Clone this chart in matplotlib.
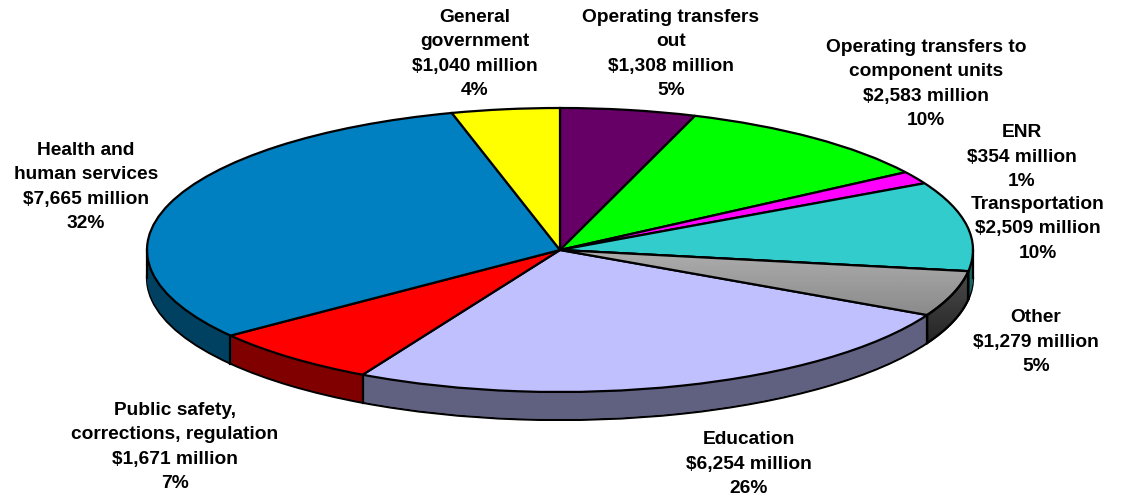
import numpy as np
import matplotlib
matplotlib.use("Agg")
import matplotlib.pyplot as plt
from matplotlib.patches import Polygon, Wedge

plt.rcParams["font.family"] = ["Liberation Sans", "DejaVu Sans"]

# clockwise from 12 o'clock
categories = [
    "Operating transfers\nout",
    "Operating transfers to\ncomponent units",
    "ENR",
    "Transportation",
    "Other",
    "Education",
    "Public safety,\ncorrections, regulation",
    "Health and\nhuman services",
    "General\ngovernment",
]
values = [1308, 2583, 354, 2509, 1279, 6254, 1671, 7665, 1040]
percents = [5, 10, 1, 10, 5, 26, 7, 32, 4]
colors = ["#660066", "#00ff00", "#ff00ff", "#33cccc", "#999999",
          "#c0c0ff", "#ff0000", "#0080c0", "#ffff00"]
wall_colors = ["#330033", "#008000", "#800080", "#1a6666", "#3a3a3a",
               "#606080", "#800000", "#004060", "#808000"]
label_pos = [(671, 54), (926, 84), (1022, 157), (1038, 229), (1036, 342),
             (749, 464), (175, 447), (86, 187), (475, 54)]

W, H = 1122, 501
CX, CY = 560, 250      # pie centre, px
RX, RY = 413, 142      # pie radii, px
DEPTH = 28 / RY        # wall height in y units
GRAY = 4               # index of the shaded slice
LW = 1.6

fig = plt.figure(figsize=(W / 100, H / 100), dpi=100)
ax = fig.add_axes([0, 0, 1, 1])

# side wall: same pie repeated downward
for shift in np.linspace(DEPTH, 0, 29):
    edge = {"edgecolor": "black", "linewidth": LW} if shift == DEPTH else {"linewidth": 0}
    ax.pie(values, colors=wall_colors, startangle=90, counterclock=False,
           center=(0, -shift), wedgeprops=edge)

# top face
top, _ = ax.pie(values, colors=colors, startangle=90, counterclock=False,
                wedgeprops={"edgecolor": "black", "linewidth": LW})

angles = 90 - 360 * np.cumsum([0] + values) / sum(values)

# shaded wall of the gray slice
th = np.radians(np.linspace(angles[GRAY], angles[GRAY + 1], 40))
upper = np.column_stack([np.cos(th), np.sin(th)])
lower = upper[::-1] - [0, DEPTH]
wall = Polygon(np.vstack([upper, lower]), closed=True, facecolor="none", edgecolor="black",
               linewidth=LW, zorder=1.6)
ax.add_patch(wall)
img = ax.imshow(np.linspace(0.34, 0.12, 64)[:, None], cmap="gray", vmin=0, vmax=1, aspect="auto",
                extent=(0.8, 1.0, -0.75, 0.0), zorder=1.5)
img.set_clip_path(wall)

# shaded top of the gray slice
img = ax.imshow(np.linspace(0.68, 0.5, 64)[:, None], cmap="gray", vmin=0, vmax=1, aspect="auto",
                extent=(0, 1.0, -0.6, 0.0), zorder=1.5)
img.set_clip_path(top[GRAY])
ax.add_patch(Wedge((0, 0), 1, angles[GRAY + 1], angles[GRAY], facecolor="none",
                   edgecolor="black", linewidth=LW, zorder=1.6))

# vertical seams on the front of the wall
for a in angles:
    x, y = np.cos(np.radians(a)), np.sin(np.radians(a))
    if y < 0:
        ax.plot([x, x], [y, y - DEPTH], color="black", lw=LW, zorder=1.7)
for x in (-1, 1):
    ax.plot([x, x], [0, -DEPTH], color="black", lw=LW, zorder=1.7)

ax.set_aspect("auto")
ax.set_xlim(-CX / RX, (W - CX) / RX)
ax.set_ylim((CY - H) / RY, CY / RY)
ax.axis("off")

for cat, val, pct, (px, py) in zip(categories, values, percents, label_pos):
    fig.text(px / W, 1 - py / H, f"{cat}\n${val:,} million\n{pct}%", ha="center", va="center",
             fontsize=13.75, fontweight="bold", linespacing=1.575)

fig.savefig("out.png", dpi=100)
